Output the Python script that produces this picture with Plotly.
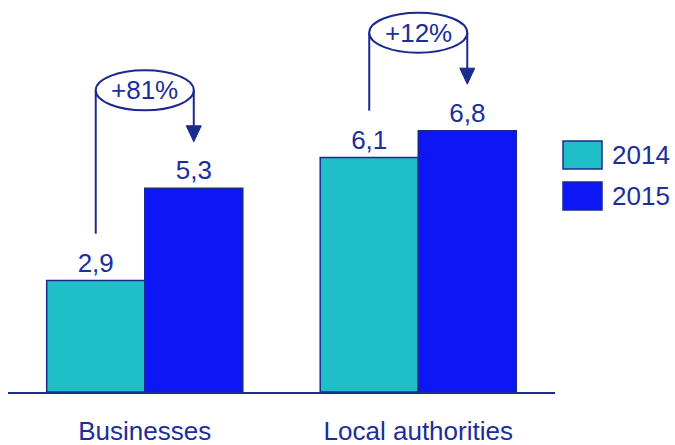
import plotly.graph_objects as go

categories = ["Businesses", "Local authorities"]
years = ["2014", "2015"]
values_2014 = [2.9, 6.1]
values_2015 = [5.3, 6.8]
pct_labels = ["+81%", "+12%"]

W, H = 675, 445
ML, MR, MT, MB = 8, 120, 0, 53
PW, PH = W - ML - MR, H - MT - MB
YMAX = 10.2

TEXT = "#1A2E9C"
NAVY = "#1A2A8E"
TEAL = "#20BEC6"
BLUE = "#0D16F5"
FONT = "Liberation Sans, Arial, sans-serif"
FS = 26

bargap = 0.283
bw = (1 - bargap) / 2
px_y = YMAX / PH          # data units per pixel (y)
px_x = 2.0 / PW           # category units per pixel (x)

fig = go.Figure()
for name, vals, col in [(years[0], values_2014, TEAL), (years[1], values_2015, BLUE)]:
    fig.add_trace(go.Bar(
        x=categories, y=vals, name=name,
        marker=dict(color=col, line=dict(color=NAVY, width=1.5)),
        texttemplate="%{y:.1f}", textposition="outside", cliponaxis=False,
        textfont=dict(size=FS, color=TEXT, family=FONT),
        showlegend=False,
    ))

shapes = []
annotations = []
lc = dict(color=NAVY, width=2)
for i, (a, b, lab) in enumerate(zip(values_2014, values_2015, pct_labels)):
    x1 = i - bw / 2
    x2 = i + bw / 2
    cy = b + 2.55
    ry = 20 * px_y
    tip = b + 1.21
    head_len = 16 * px_y
    head_hw = 7.5 * px_x
    shapes.append(dict(type="line", xref="x", yref="y", x0=x1, x1=x1, y0=cy, y1=a + 1.22, line=lc))
    shapes.append(dict(type="line", xref="x", yref="y", x0=x2, x1=x2, y0=cy, y1=tip + head_len * 0.9, line=lc))
    shapes.append(dict(type="path", xref="x", yref="y",
                       path=f"M {x2 - head_hw} {tip + head_len} L {x2 + head_hw} {tip + head_len} L {x2} {tip} Z",
                       fillcolor=NAVY, line=dict(color=NAVY, width=1)))
    shapes.append(dict(type="circle", xref="x", yref="y", x0=x1, x1=x2, y0=cy - ry, y1=cy + ry,
                       fillcolor="white", line=lc))
    annotations.append(dict(x=i, y=cy, xref="x", yref="y", text=lab, showarrow=False,
                            font=dict(size=FS, color=TEXT, family=FONT)))

def px2paper(px, py):
    return (px - ML) / PW, 1 - (py - MT) / PH

for k, (yr, col) in enumerate([(years[0], TEAL), (years[1], BLUE)]):
    top = 141 + k * 41
    xa, ya = px2paper(563, top)
    xb, yb = px2paper(602, top + 28)
    shapes.append(dict(type="rect", xref="paper", yref="paper", x0=xa, x1=xb, y0=yb, y1=ya,
                       fillcolor=col, line=dict(color=NAVY, width=1.5)))
    tx, ty = px2paper(610, top + 14)
    annotations.append(dict(x=tx, y=ty, xref="paper", yref="paper", text=yr, showarrow=False,
                            xanchor="left", yanchor="middle",
                            font=dict(size=FS, color=TEXT, family=FONT)))

fig.update_layout(
    width=W, height=H, margin=dict(l=ML, r=MR, t=MT, b=MB),
    paper_bgcolor="white", plot_bgcolor="white",
    barmode="group", bargap=bargap, bargroupgap=0,
    separators=",.",
    shapes=shapes, annotations=annotations,
    font=dict(family=FONT, color=TEXT),
    xaxis=dict(type="category", range=[-0.5, 1.5], showline=True, linecolor=NAVY, linewidth=2,
               ticks="", showgrid=False, tickfont=dict(size=FS, color=TEXT, family=FONT),
               ticklabelstandoff=15, automargin=False),
    yaxis=dict(range=[0, YMAX], visible=False, showgrid=False, zeroline=False, automargin=False),
)

fig.write_html("out.html")
